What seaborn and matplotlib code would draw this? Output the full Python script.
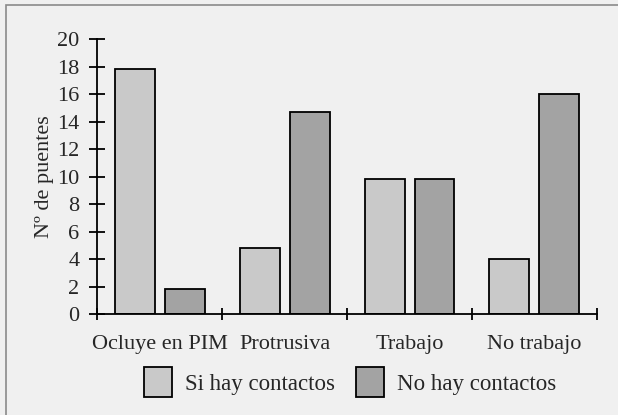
import matplotlib
matplotlib.use("Agg")
import matplotlib.pyplot as plt
import seaborn as sns
import pandas as pd
from matplotlib.patches import Rectangle

categorias = ["Ocluye en PIM", "Protrusiva", "Trabajo", "No trabajo"]
series = ["Si hay contactos", "No hay contactos"]
si_contactos = [17.8, 4.8, 9.8, 4.0]
no_contactos = [1.8, 14.7, 9.8, 16.0]
y_ticks = [0, 2, 4, 6, 8, 10, 12, 14, 16, 18, 20]

df = pd.DataFrame({
    "posicion": categorias * 2,
    "contacto": [series[0]] * 4 + [series[1]] * 4,
    "puentes": si_contactos + no_contactos,
})

sns.set_style("white")
plt.rcParams["font.family"] = ["Liberation Serif", "DejaVu Serif"]

fig = plt.figure(figsize=(6.18, 4.15), dpi=100, facecolor="#f0f0f0")
ax = fig.add_axes([0.157, 0.2434, 0.809, 0.662])
ax.patch.set_alpha(0)

sns.barplot(data=df, x="posicion", y="puentes", hue="contacto",
            order=categorias, hue_order=series,
            palette=["#c9c9c9", "#a3a3a3"], width=0.8, gap=0.2,
            edgecolor="black", linewidth=1.3, errorbar=None,
            saturation=1, ax=ax, legend=False)

ax.set_xlim(-0.5, 3.5)
ax.set_ylim(0, 20)
ax.set_yticks(y_ticks)
ax.set_yticklabels([str(v) for v in y_ticks])
ax.set_xticks([-0.5, 0.5, 1.5, 2.5, 3.5])
ax.set_xticklabels([])
ax.set_xticks([0, 1, 2, 3], minor=True)
ax.set_xticklabels(categorias, minor=True)
ax.tick_params(axis="x", which="minor", bottom=False, length=0, pad=15, labelsize=16)
ax.tick_params(axis="x", which="major", bottom=True, direction="inout", length=9,
               width=1.3, color="black")
ax.tick_params(axis="y", left=True, direction="inout", length=11.5, width=1.3,
               color="black", labelsize=16, pad=7)
ax.set_xlabel("")
ax.set_ylabel("Nº de puentes", fontsize=16, labelpad=2)

for s in ["top", "right"]:
    ax.spines[s].set_visible(False)
for s in ["left", "bottom"]:
    ax.spines[s].set_color("black")
    ax.spines[s].set_linewidth(1.3)

handles = [Rectangle((0, 0), 1, 1, facecolor=c, edgecolor="black", linewidth=1.3)
           for c in ["#c9c9c9", "#a3a3a3"]]
fig.legend(handles, series, loc="center", bbox_to_anchor=(350 / 618, 1 - 382 / 415),
           ncol=2, frameon=False, fontsize=16.5, handlelength=1.25, handleheight=1.6,
           handletextpad=0.55, columnspacing=0.9)

frame = Rectangle((6 / 618, -0.05), 1.1, 1 - 5 / 415 + 0.05, transform=fig.transFigure,
                  fill=False, edgecolor="#8a8a8a", linewidth=1.2)
fig.patches.append(frame)

fig.savefig("out.png", dpi=100, facecolor=fig.get_facecolor())
